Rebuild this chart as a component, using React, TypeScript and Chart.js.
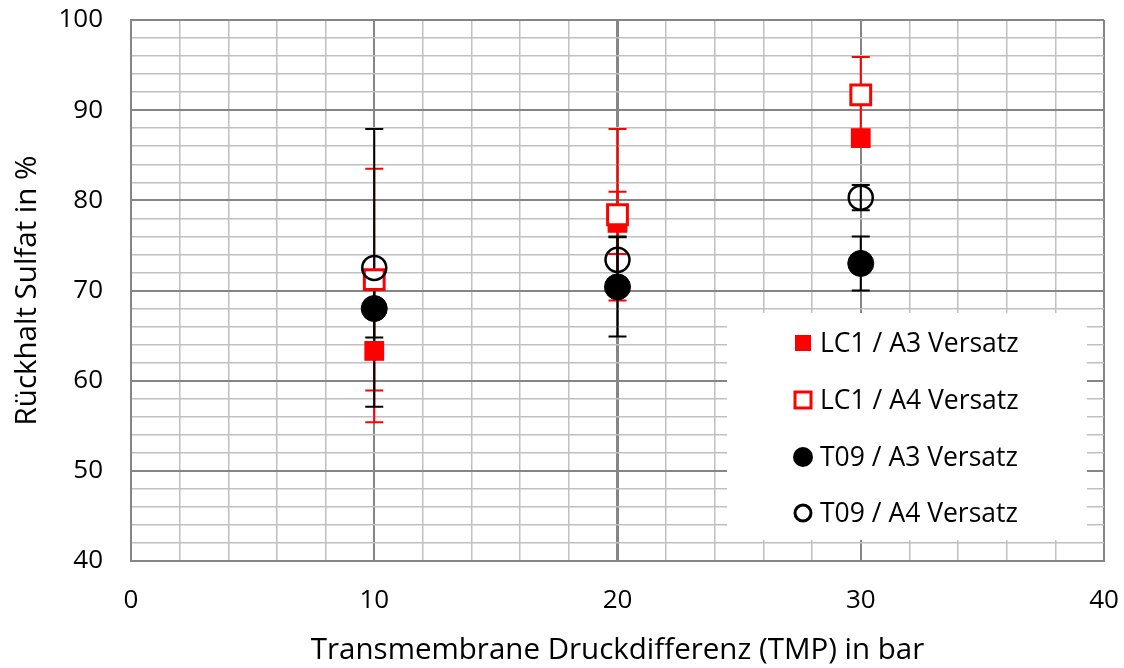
import { useEffect, useRef } from 'react';
import { Chart, registerables } from 'chart.js';

Chart.register(...registerables);

// ---- data ----
const tmpValues = [10, 20, 30];

const lc1A3 = [63.3, 77.5, 86.9];
const lc1A3Err = [7.9, 3.45, 0.8];

const lc1A4 = [71.2, 78.4, 91.7];
const lc1A4Err = [12.3, 9.5, 4.2];

const t09A3 = [68.0, 70.4, 73.0];
const t09A3Err = [3.2, 5.5, 3.0];

const t09A4 = [72.5, 73.4, 80.3];
const t09A4Err = [15.4, 2.6, 1.4];

const seriesLabels = ['LC1 / A3 Versatz', 'LC1 / A4 Versatz', 'T09 / A3 Versatz', 'T09 / A4 Versatz'];
const xTitle = 'Transmembrane Druckdifferenz (TMP) in bar';
const yTitle = 'Rückhalt Sulfat in %';

const FONT = "'Open Sans', 'Noto Sans', sans-serif";
const RED = '#ff0000';
const BLACK = '#000000';
const CLEAR = 'rgba(0,0,0,0)';

const toPoints = (ys: number[]) => ys.map((y, i) => ({ x: tmpValues[i], y }));

const errorBarPlugin = {
  id: 'errorBars',
  beforeDatasetsDraw(chart: any) {
    const { ctx } = chart;
    const xs = chart.scales.x;
    const ys = chart.scales.y;
    ctx.save();
    chart.data.datasets.forEach((ds: any, i: number) => {
      if (!chart.isDatasetVisible(i)) return;
      ctx.strokeStyle = ds.errorColor;
      ctx.lineWidth = 2;
      ds.data.forEach((pt: any, j: number) => {
        const e = ds.errors[j];
        const px = xs.getPixelForValue(pt.x);
        const top = ys.getPixelForValue(pt.y + e);
        const bot = ys.getPixelForValue(pt.y - e);
        const cap = 9;
        ctx.beginPath();
        ctx.moveTo(px, top);
        ctx.lineTo(px, bot);
        ctx.moveTo(px - cap, top);
        ctx.lineTo(px + cap, top);
        ctx.moveTo(px - cap, bot);
        ctx.lineTo(px + cap, bot);
        ctx.stroke();
      });
    });
    ctx.restore();
  },
};

const legendPlugin = {
  id: 'boxLegend',
  afterDraw(chart: any) {
    const { ctx } = chart;
    const boxL = 727, boxT = 313, boxW = 360, boxH = 227;
    ctx.save();
    ctx.fillStyle = '#ffffff';
    ctx.fillRect(boxL, boxT, boxW, boxH);
    const rows = [343, 400, 457, 513];
    const mx = 803;
    chart.data.datasets.forEach((ds: any, i: number) => {
      const cy = rows[i];
      ctx.beginPath();
      if (ds.pointStyle === 'rect') {
        if (ds.legendFilled) {
          ctx.fillStyle = ds.borderColor;
          ctx.fillRect(mx - 8, cy - 8, 16, 16);
        } else {
          ctx.fillStyle = '#ffffff';
          ctx.strokeStyle = ds.borderColor;
          ctx.lineWidth = 3;
          ctx.fillRect(mx - 8, cy - 8, 16, 16);
          ctx.strokeRect(mx - 8, cy - 8, 16, 16);
        }
      } else {
        if (ds.legendFilled) {
          ctx.fillStyle = ds.borderColor;
          ctx.arc(mx, cy, 10, 0, Math.PI * 2);
          ctx.fill();
        } else {
          ctx.strokeStyle = ds.borderColor;
          ctx.lineWidth = 3;
          ctx.arc(mx, cy, 8, 0, Math.PI * 2);
          ctx.stroke();
        }
      }
      ctx.fillStyle = '#000000';
      ctx.font = `26.5px ${FONT}`;
      ctx.textAlign = 'left';
      ctx.textBaseline = 'middle';
      ctx.fillText(ds.label, 820, cy + 1);
    });
    ctx.restore();
  },
};

const gridColor = (ctx: any) => (ctx.tick && ctx.tick.value % 10 === 0 ? '#858585' : '#c0c0c0');

export default function App() {
  const ref = useRef<HTMLCanvasElement>(null);

  useEffect(() => {
    const canvas = ref.current!;
    const chart = new Chart(canvas, {
      type: 'scatter',
      data: {
        datasets: [
          {
            label: seriesLabels[0],
            data: toPoints(lc1A3),
            errors: lc1A3Err,
            errorColor: RED,
            pointStyle: 'rect',
            pointRadius: 14,
            backgroundColor: RED,
            borderColor: RED,
            borderWidth: 0,
            legendFilled: true,
            order: 4,
          },
          {
            label: seriesLabels[1],
            data: toPoints(lc1A4),
            errors: lc1A4Err,
            errorColor: RED,
            pointStyle: 'rect',
            pointRadius: 14,
            backgroundColor: '#ffffff',
            borderColor: RED,
            borderWidth: 3,
            legendFilled: false,
            order: 3,
          },
          {
            label: seriesLabels[2],
            data: toPoints(t09A3),
            errors: t09A3Err,
            errorColor: BLACK,
            pointStyle: 'circle',
            pointRadius: 13,
            backgroundColor: BLACK,
            borderColor: BLACK,
            borderWidth: 1,
            legendFilled: true,
            order: 2,
          },
          {
            label: seriesLabels[3],
            data: toPoints(t09A4),
            errors: t09A4Err,
            errorColor: BLACK,
            pointStyle: 'circle',
            pointRadius: 12,
            backgroundColor: CLEAR,
            borderColor: BLACK,
            borderWidth: 2.5,
            legendFilled: false,
            order: 1,
          },
        ] as any,
      },
      options: {
        responsive: false,
        animation: false,
        devicePixelRatio: 1,
        layout: { padding: { left: 0, right: 20, top: 20, bottom: 0 } },
        plugins: {
          legend: { display: false },
          tooltip: { enabled: false },
        },
        scales: {
          x: {
            type: 'linear',
            min: 0,
            max: 40,
            afterFit: (s: any) => {
              s.height = 107;
            },
            ticks: {
              stepSize: 2,
              autoSkip: false,
              maxRotation: 0,
              padding: 0,
              color: '#000',
              font: { family: FONT, size: 26 },
              callback: (v: any) => (Number(v) % 10 === 0 ? String(v) : ''),
            },
            grid: {
              drawTicks: true,
              tickLength: 24,
              tickColor: CLEAR,
              color: gridColor,
              lineWidth: (ctx: any) =>
                ctx.tick && ctx.tick.value === 20 ? 3 : ctx.tick && ctx.tick.value % 10 === 0 ? 2 : 1.5,
            },
            border: { display: true, color: '#858585', width: 2 },
            title: {
              display: true,
              text: xTitle,
              color: '#000',
              font: { family: FONT, size: 29.5 },
              padding: { top: 0, bottom: 0 },
            },
          },
          y: {
            type: 'linear',
            min: 40,
            max: 100,
            afterFit: (s: any) => {
              s.width = 131;
            },
            ticks: {
              stepSize: 2,
              autoSkip: false,
              padding: 0,
              color: '#000',
              font: { family: FONT, size: 26 },
              callback: (v: any) => (Number(v) % 10 === 0 ? String(v) : ''),
            },
            grid: {
              drawTicks: true,
              tickLength: 28,
              tickColor: CLEAR,
              color: gridColor,
              lineWidth: (ctx: any) => (ctx.tick && ctx.tick.value % 10 === 0 ? 2 : 1.5),
            },
            border: { display: true, color: '#858585', width: 2 },
            title: {
              display: true,
              text: yTitle,
              color: '#000',
              font: { family: FONT, size: 29.5 },
              padding: { top: 10, bottom: 0 },
            },
          },
        },
      } as any,
      plugins: [errorBarPlugin, legendPlugin],
    });
    return () => chart.destroy();
  }, []);

  return (
    <div style={{ position: 'absolute', left: 0, top: 0, width: 1124, height: 668, background: '#ffffff' }}>
      <canvas ref={ref} width={1124} height={668} style={{ width: 1124, height: 668, display: 'block' }} />
    </div>
  );
}
